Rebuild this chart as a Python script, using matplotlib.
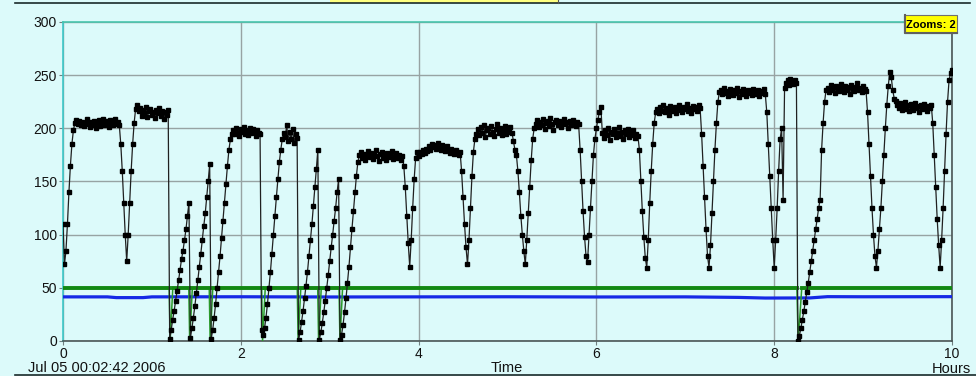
import matplotlib.pyplot as plt
import numpy as np
from matplotlib.lines import Line2D
from matplotlib.patches import Rectangle

plt.rcParams["font.family"] = ["Liberation Sans", "DejaVu Sans"]

W, H = 976, 376
FONDO = "#dcfafa"

# temperatura registrada, una muestra por minuto desde Jul 05 00:02:42 2006
temperatura = [
    110, 72, 85, 110, 140, 165, 185, 198, 205,
    208, 204, 207, 203, 206, 202, 205, 209, 204, 201, 206, 203, 207, 200, 205,
    208, 202, 206, 209, 203, 207, 204, 201, 208, 205, 203, 209, 204, 206,
    203, 185, 160, 130, 100, 75,
    100, 130, 160, 185, 205, 218,
    222, 216, 219, 212, 217, 214, 220, 211, 216, 218, 213, 215, 210, 217, 214,
    219, 212, 216, 209, 215, 213, 217,
    2, 10, 20, 28, 38, 47, 57, 67, 77, 85, 95, 105, 118, 130,
    3, 12, 22, 33, 45, 57, 70, 82, 95, 108, 120, 135, 150, 166,
    2, 10, 22, 35, 50, 65, 80, 97, 113, 130, 148, 165, 180, 190, 195,
    198, 195, 200, 196, 193, 199, 197, 201, 195, 198, 194, 200, 196, 199, 197,
    193, 198, 196, 195,
    10, 6, 12, 22, 35, 50, 65, 82, 100, 118, 135, 152, 168, 180, 190, 196,
    192, 203, 188, 197, 190, 199, 186, 195, 191,
    1, 8, 18, 28, 40, 52, 65, 80, 95, 110, 127, 145, 162, 180,
    1, 8, 17, 27, 38, 50, 62, 75, 88, 100, 113, 125, 140, 152,
    1, 6, 15, 27, 40, 55, 70, 88, 105, 122, 140, 155, 168, 175,
    178, 172, 176, 170, 174, 179, 173, 177, 171, 175, 180, 174, 169, 176, 178,
    172, 175, 170, 177, 173, 176, 179, 171, 174, 177, 172, 175, 170, 174,
    165, 145, 118, 92, 70, 95, 125, 152, 172, 178,
    174, 178, 176, 180, 177, 181, 179, 183, 180, 185, 182, 184, 181, 186, 183,
    180, 184, 182, 179, 183, 180, 177, 181, 178, 176, 180, 177, 175, 178,
    160, 135, 110, 88, 72, 95, 125, 155, 178, 190, 195,
    199, 194, 201, 196, 203, 192, 198, 200, 195, 202, 197, 193, 199, 204, 196,
    200, 194, 198, 202, 195, 199, 197, 201, 196,
    188, 180, 175, 160, 140, 118, 100, 85, 72,
    95, 120, 145, 170, 190, 200,
    204, 208, 201, 206, 203, 209, 199, 205, 207, 202, 210, 204, 198, 206, 208,
    203, 207, 201, 205, 209, 204, 206, 200, 207, 203, 208, 205, 202, 206, 204,
    180, 150, 122, 98, 80, 74, 100, 125, 150, 175, 190, 200, 208, 215, 220,
    196, 191, 198, 194, 200, 189, 197, 195, 199, 192, 196, 201, 193, 197, 190,
    198, 195, 199, 192, 196, 194, 198, 191, 195, 193,
    180, 150, 122, 98, 78, 69, 95, 130, 160, 185, 205, 215,
    218, 214, 220, 216, 222, 215, 219, 217, 213, 221, 218, 216, 220, 214, 219,
    222, 217, 215, 220, 218, 223, 216, 219, 214, 221, 218, 220, 216, 222, 219,
    195, 165, 135, 105, 80, 69, 90, 120, 150, 180, 205, 225, 234,
    236, 232, 238, 233, 235, 230, 237, 234, 231, 236, 233, 238, 229, 235, 232,
    237, 234, 230, 236, 233, 235, 231, 237, 232, 234, 236, 230, 235, 233, 237, 232,
    215, 185, 155, 125, 95, 69,
    95, 125, 160, 190, 200, 133, 238,
    243, 245, 241, 246, 244, 242, 245, 243,
    0, 5, 12, 20, 28, 37, 46, 55, 65, 75, 85, 95, 105, 115, 125, 133, 180, 205,
    225, 236,
    238, 234, 241, 236, 239, 233, 240, 237, 235, 242, 238, 234, 240, 236, 239,
    232, 241, 237, 235, 239, 243, 236, 238, 234, 240, 237, 235,
    215, 185, 155, 125, 100, 80, 69, 85, 105, 125, 150, 175, 200, 222, 240, 253,
    248, 236, 228,
    226, 222, 219, 224, 217, 221, 225, 218, 222, 216, 223, 220, 217, 224, 219,
    221, 215, 222, 218, 223, 220, 216, 221, 219, 222,
    205, 175, 145, 115, 90, 69, 95, 125, 160, 195, 225, 245, 252,
    255,
]

# serie verde (cae a 0 en cada reinicio)
verde_horas = [0, 1.195, 1.205, 1.235, 1.415, 1.425, 1.455, 1.645, 1.655, 1.685,
               2.235, 2.245, 2.275, 2.635, 2.645, 2.675, 2.865, 2.875, 2.905,
               3.105, 3.115, 3.145, 8.255, 8.27, 8.31, 10]
verde_valores = [50, 50, 0, 50, 50, 0, 50, 50, 0, 50,
                 50, 0, 50, 50, 0, 50, 50, 0, 50,
                 50, 0, 50, 50, 0, 50, 50]

# serie azul
azul_horas = [0, 0.5, 0.6, 0.9, 1.0, 2, 3, 4, 5, 6, 7, 7.6, 7.9, 8.4, 8.6, 9, 10]
azul_valores = [41.5, 41.5, 40.8, 40.8, 41.5, 41.6, 41.4, 41.5, 41.6, 41.4, 41.5,
                41.0, 40.4, 40.5, 41.7, 41.6, 41.7]

x_ticks = [0, 2, 4, 6, 8, 10]
y_ticks = [0, 50, 100, 150, 200, 250, 300]


def fig_xy(x, y):
    return x / W, 1 - y / H


fig = plt.figure(figsize=(W / 100, H / 100), dpi=100, facecolor=FONDO)
ax = fig.add_axes([63 / W, (H - 341) / H, 889 / W, 319 / H], facecolor=FONDO)

horas = np.arange(len(temperatura)) / 60.0

ax.plot(azul_horas, azul_valores, color="#1428e6", linewidth=2.3, zorder=3)
# la caida se ve como una linea fina, el tramo estable como banda gruesa
ax.plot(verde_horas, verde_valores, color="#2a9a2a", linewidth=1.1, zorder=3)
verde_estable = np.ma.masked_less(np.array(verde_valores, dtype=float), 49)
ax.plot(verde_horas, verde_estable, color="#128812", linewidth=2.8, zorder=3)
ax.plot(horas, temperatura, color="#202020", linewidth=0.9, marker="s",
        markersize=2.2, markerfacecolor="black", markeredgecolor="black", zorder=4)

ax.set_xlim(0, 10)
ax.set_ylim(0, 300)
ax.set_xticks(x_ticks)
ax.set_xticklabels([str(v) for v in x_ticks])
ax.set_yticks(y_ticks)
ax.grid(True, color="#97a3a3", linewidth=1.0, zorder=1)
ax.tick_params(axis="both", length=3, width=0.8, color="#708080",
               labelsize=10, labelcolor="#111111")
ax.tick_params(axis="x", pad=1.5)
ax.tick_params(axis="y", pad=1.5)

ax.spines["left"].set_color("#3cc8c8")
ax.spines["top"].set_color("#48c4ac")
ax.spines["bottom"].set_color("#4a5555")
ax.spines["right"].set_color("#4a5555")
for s in ax.spines.values():
    s.set_linewidth(1.2)

# textos del eje x
fig.text(*fig_xy(28, 372.5), "Jul 05 00:02:42 2006", ha="left", va="baseline",
         fontsize=10.5, color="#111111")
fig.text(*fig_xy(507, 372.5), "Time", ha="center", va="baseline",
         fontsize=10.5, color="#111111")
fig.text(*fig_xy(971, 373), "Hours", ha="right", va="baseline",
         fontsize=10.5, color="#111111")

# marco de la ventana
fig.add_artist(Line2D([15 / W, 970 / W], [1 - 2.5 / H, 1 - 2.5 / H],
                      transform=fig.transFigure, color="#1a2a2a", linewidth=1.2))
fig.add_artist(Line2D([15 / W, 976 / W], [1 - 374.5 / H, 1 - 374.5 / H],
                      transform=fig.transFigure, color="#1a2a2a", linewidth=1.2))
fig.add_artist(Rectangle(fig_xy(330, 2.5), 228 / W, 2.5 / H, transform=fig.transFigure,
                         facecolor="#ffff80", edgecolor="none"))
fig.add_artist(Line2D([558 / W, 558 / W], [1, 1 - 2.5 / H],
                      transform=fig.transFigure, color="#555555", linewidth=0.8))

# recuadro "Zooms"
fig.add_artist(Rectangle(fig_xy(904, 33), 53 / W, 18 / H, transform=fig.transFigure,
                         facecolor="#ffff00", edgecolor="#707070", linewidth=0.8,
                         zorder=10))
fig.add_artist(Line2D([904.5 / W, 904.5 / W, 957 / W], [1 - 15 / H, 1 - 32.5 / H, 1 - 32.5 / H],
                      transform=fig.transFigure, color="#606060", linewidth=1.5, zorder=11))
fig.text(*fig_xy(931, 24.5), "Zooms: 2", ha="center", va="center", fontsize=8,
         fontweight="bold", color="black", zorder=12)

fig.savefig("out.png", dpi=100, facecolor=FONDO)
